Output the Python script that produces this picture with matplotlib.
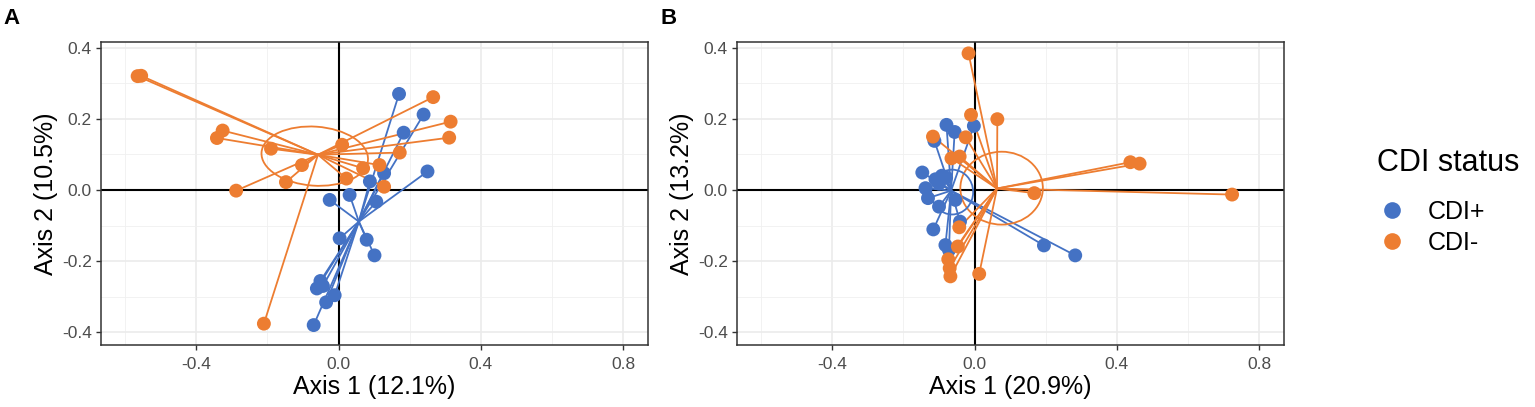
import numpy as np
import matplotlib
matplotlib.use("Agg")
import matplotlib.pyplot as plt
from matplotlib.patches import Ellipse
from matplotlib.lines import Line2D
from matplotlib.ticker import MultipleLocator

plt.rcParams['font.family'] = ['Liberation Sans', 'DejaVu Sans']

# ---------------- data ----------------
groups = ["CDI+", "CDI-"]
colors = {"CDI+": "#4472C4", "CDI-": "#ED7D31"}

# Panel A
a_pos_x = [0.170, 0.239, 0.183, 0.250, 0.128, 0.088, 0.031, -0.025, 0.106, 0.003,
           0.079, 0.101, -0.051, -0.061, -0.044, -0.011, -0.035, -0.070]
a_pos_y = [0.270, 0.212, 0.161, 0.052, 0.047, 0.024, -0.014, -0.028, -0.033, -0.136,
           -0.140, -0.184, -0.256, -0.277, -0.270, -0.296, -0.316, -0.380]
a_neg_x = [-0.565, -0.555, -0.326, -0.342, -0.190, -0.103, -0.148, -0.288, -0.210,
           0.266, 0.315, 0.311, 0.172, 0.010, 0.069, 0.115, 0.022, 0.128]
a_neg_y = [0.320, 0.321, 0.167, 0.146, 0.116, 0.070, 0.022, -0.002, -0.376,
           0.261, 0.192, 0.147, 0.105, 0.127, 0.061, 0.070, 0.032, 0.009]
a_centroid = {"CDI+": (0.057, -0.089), "CDI-": (-0.058, 0.099)}
# SD ellipses: (centre x, centre y, width, height, angle)
a_ellipses = {"CDI-": (-0.067, 0.095, 0.300, 0.166, -4)}
a_xlabel = "Axis 1 (12.1%)"
a_ylabel = "Axis 2 (10.5%)"

# Panel B
b_pos_x = [-0.079, -0.056, -0.002, -0.113, -0.147, -0.138, -0.131, -0.100, -0.110,
           -0.092, -0.080, -0.100, -0.054, -0.116, -0.082, -0.072, -0.041, 0.195, 0.283]
b_pos_y = [0.183, 0.163, 0.180, 0.138, 0.049, 0.005, -0.023, -0.047, 0.030,
           0.040, 0.035, 0.018, -0.028, -0.111, -0.155, -0.169, -0.089, -0.156, -0.184]
b_neg_x = [-0.017, -0.010, 0.064, -0.117, -0.025, -0.065, -0.042, 0.438, 0.464,
           0.168, 0.724, -0.043, -0.047, -0.074, -0.070, -0.068, 0.013]
b_neg_y = [0.384, 0.211, 0.199, 0.150, 0.148, 0.089, 0.094, 0.078, 0.074,
           -0.009, -0.013, -0.105, -0.159, -0.195, -0.220, -0.243, -0.236]
b_centroid = {"CDI+": (-0.066, -0.002), "CDI-": (0.063, 0.004)}
b_ellipses = {"CDI-": (0.076, 0.005, 0.232, 0.205, 0),
              "CDI+": (-0.063, -0.006, 0.118, 0.126, 0)}
b_xlabel = "Axis 1 (20.9%)"
b_ylabel = "Axis 2 (13.2%)"

x_ticks = [-0.4, 0.0, 0.4, 0.8]
y_ticks = [-0.4, -0.2, 0.0, 0.2, 0.4]
xlim = (-0.668, 0.870)
ylim = (-0.436, 0.416)

# ---------------- figure ----------------
W, H = 1535, 407
fig = plt.figure(figsize=(W / 100, H / 100), dpi=100)


def px_rect(l, t, r, b):
    return [l / W, 1 - b / H, (r - l) / W, (b - t) / H]


def draw_panel(ax, pts, centroids, ellipses, xlabel, ylabel):
    ax.set_xlim(*xlim)
    ax.set_ylim(*ylim)
    ax.set_xticks(x_ticks)
    ax.set_yticks(y_ticks)
    ax.set_xticklabels([f"{v:.1f}" for v in x_ticks])
    ax.set_yticklabels([f"{v:.1f}" for v in y_ticks])
    ax.xaxis.set_minor_locator(MultipleLocator(0.2))
    ax.yaxis.set_minor_locator(MultipleLocator(0.1))
    ax.grid(True, which='major', color='#EBEBEB', lw=1.2, zorder=0)
    ax.grid(True, which='minor', color='#F0F0F0', lw=0.6, zorder=0)
    ax.set_axisbelow(True)
    ax.tick_params(which='minor', length=0)
    ax.tick_params(which='major', length=3.5, width=1.0, color='#333333',
                   labelsize=12.5, labelcolor='#4D4D4D', pad=3)
    ax.tick_params(axis='x', which='major', pad=5)
    for s in ax.spines.values():
        s.set_color('#333333')
        s.set_linewidth(1.1)
    ax.axhline(0, color='black', lw=1.5, zorder=1)
    ax.axvline(0, color='black', lw=1.5, zorder=1)
    for g in groups:
        xs, ys = pts[g]
        cx, cy = centroids[g]
        for x, y in zip(xs, ys):
            ax.plot([cx, x], [cy, y], color=colors[g], lw=1.3, zorder=2,
                    solid_capstyle='butt')
    for g, (ex, ey, ew, eh, ang) in ellipses.items():
        ax.add_patch(Ellipse((ex, ey), ew, eh, angle=ang, fill=False,
                             edgecolor=colors[g], lw=1.3, zorder=2))
    for g in groups:
        xs, ys = pts[g]
        ax.scatter(xs, ys, s=100, color=colors[g], edgecolors='none', zorder=3)
    ax.set_xlabel(xlabel, fontsize=18, labelpad=2)
    ax.set_ylabel(ylabel, fontsize=18, labelpad=3)


axA = fig.add_axes(px_rect(101, 42, 648, 345))
draw_panel(axA, {"CDI+": (a_pos_x, a_pos_y), "CDI-": (a_neg_x, a_neg_y)},
           a_centroid, a_ellipses, a_xlabel, a_ylabel)
axB = fig.add_axes(px_rect(737, 42, 1284, 345))
draw_panel(axB, {"CDI+": (b_pos_x, b_pos_y), "CDI-": (b_neg_x, b_neg_y)},
           b_centroid, b_ellipses, b_xlabel, b_ylabel)

fig.text(3 / W, 1 - 24 / H, "A", fontsize=16, fontweight='bold', ha='left', va='baseline')
fig.text(661 / W, 1 - 24 / H, "B", fontsize=16, fontweight='bold', ha='left', va='baseline')

# legend: title as separate text, entries below
fig.text(1377 / W, 1 - 163 / H, "CDI status", fontsize=22, ha='left', va='center')
handles = [Line2D([], [], ls='none', marker='o', markersize=12, markeredgewidth=0,
                  color=colors[g]) for g in groups]
leg = fig.legend(handles, groups, loc='upper left', bbox_to_anchor=(1378 / W, 1 - 200 / H),
                 frameon=False, fontsize=18, handletextpad=0.9, labelspacing=0.28,
                 handlelength=1.1, borderaxespad=0, borderpad=0)

fig.savefig("out.png", dpi=100)
